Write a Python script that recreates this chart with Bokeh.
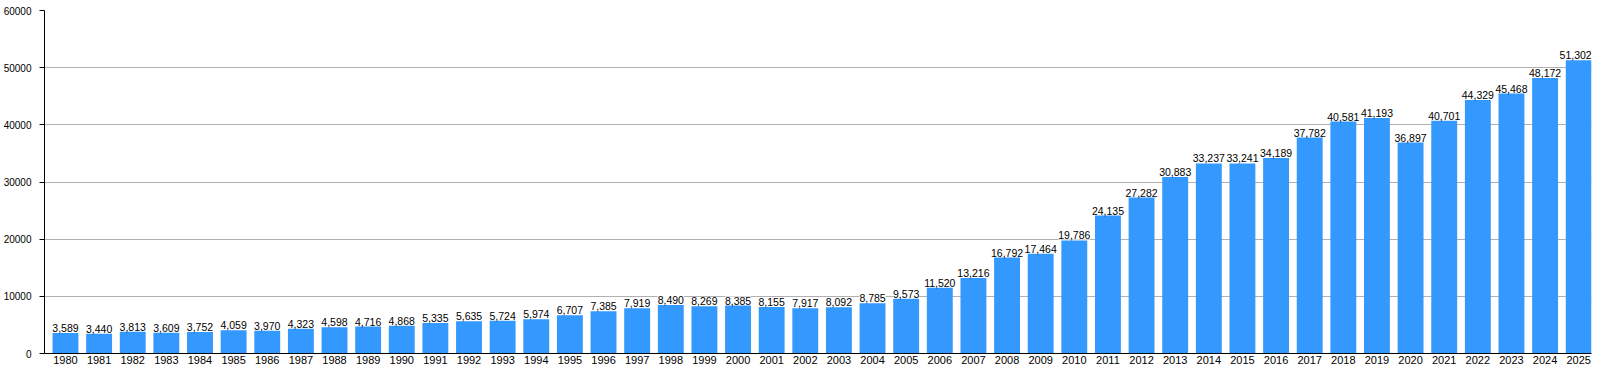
from bokeh.plotting import figure
from bokeh.models import ColumnDataSource, Range1d, FixedTicker, NumeralTickFormatter, LabelSet
from bokeh.core.properties import value
from bokeh.embed import file_html
from bokeh.resources import INLINE

years = list(range(1980, 2026))
values = [3589, 3440, 3813, 3609, 3752, 4059, 3970, 4323, 4598, 4716,
          4868, 5335, 5635, 5724, 5974, 6707, 7385, 7919, 8490, 8269,
          8385, 8155, 7917, 8092, 8785, 9573, 11520, 13216, 16792, 17464,
          19786, 24135, 27282, 30883, 33237, 33241, 34189, 37782, 40581, 41193,
          36897, 40701, 44329, 45468, 48172, 51302]
y_ticks = [0, 10000, 20000, 30000, 40000, 50000, 60000]

BAR_W = 0.77
labels = [f"{v:,}" for v in values]
# last label is kept inside the plot frame: right-aligned at the bar's right edge
lx = [y for y in years[:-1]] + [years[-1] + BAR_W / 2]
align = ["center"] * (len(years) - 1) + ["right"]
src = ColumnDataSource(dict(x=years, top=values, label=labels, lx=lx, align=align))

p = figure(width=1600, height=370, output_backend="svg", toolbar_location=None,
           x_range=Range1d(1979.376, 2025.38), y_range=Range1d(0, 60000),
           min_border_left=42, min_border_right=9, min_border_top=10, min_border_bottom=17)
p.outline_line_color = None
p.background_fill_color = "white"
p.border_fill_color = "white"

p.vbar(x="x", top="top", bottom=0, width=BAR_W, source=src, fill_color="#3399FF", line_color=None)
lbl = LabelSet(x="lx", y="top", text="label", source=src, text_align="align", text_baseline="bottom",
               y_offset=1, text_font=value("Liberation Sans"), text_font_size=value("10.5px"),
               text_color=value("black"), background_fill_color=value("white"))
p.add_layout(lbl)

p.xgrid.grid_line_color = None
p.ygrid.grid_line_color = "#b0b0b0"
p.ygrid.grid_line_width = 1
p.ygrid.level = "underlay"

p.xaxis.ticker = FixedTicker(ticks=years)
p.xaxis.formatter = NumeralTickFormatter(format="0")
p.xaxis.major_tick_out = 0
p.xaxis.major_tick_in = 0
p.xaxis.minor_tick_line_color = None
p.xaxis.axis_line_color = "black"
p.xaxis.major_label_standoff = 2
p.xaxis.major_label_text_font = "Liberation Sans"
p.xaxis.major_label_text_font_size = "11px"
p.xaxis.major_label_text_color = "black"

p.yaxis.ticker = FixedTicker(ticks=y_ticks)
p.yaxis.formatter = NumeralTickFormatter(format="0")
p.yaxis.major_tick_out = 5
p.yaxis.major_tick_in = 0
p.yaxis.minor_tick_line_color = None
p.yaxis.axis_line_color = "black"
p.yaxis.major_label_standoff = 8
p.yaxis.major_label_text_font = "Liberation Sans"
p.yaxis.major_label_text_font_size = "10px"
p.yaxis.major_label_text_color = "black"

open("out.html", "w").write(file_html(p, INLINE))
